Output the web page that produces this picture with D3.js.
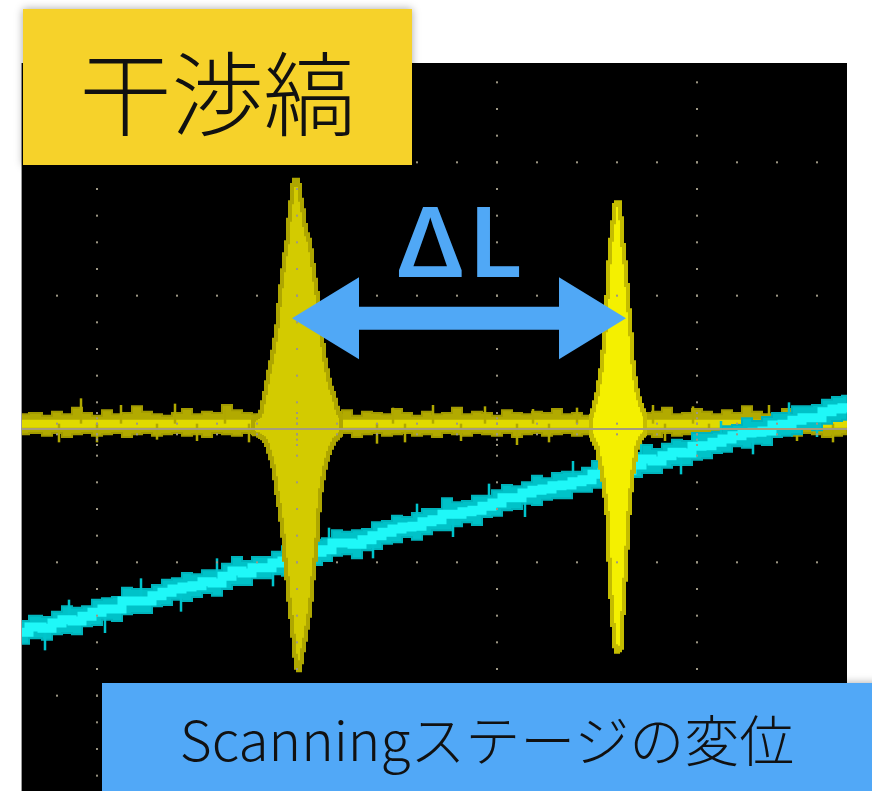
<!DOCTYPE html>
<html><head><meta charset="utf-8">
<script src="https://cdn.jsdelivr.net/npm/d3@7/dist/d3.min.js"></script>
<style>html,body{margin:0;padding:0;background:#fff;}svg{display:block}</style>
</head><body><div id="chart"></div>
<script>
// ---- sample times (scope units: 100 = 1 horizontal division) ----
const sampleT = [-238,-230,-225,-220,-215,-210,-205,-200,-195,-190,-185,-180,-175,-170,-165,-160,-155,-150,-145,-140,-135,-130,-125,-120,-115,-110,-105,-100,-95,-90,-85,-80,-75,-70,-65,-60,-55,-50,-45,-40,-35,-30,-25,-20,-15,-10,-5,0,5,10,15,20,25,30,35,40,45,50,55,60,65,70,75,80,85,90,95,100,105,110,115,120,125,130,135,140,145,150,155,160,165,170,175];

// ---- CH1 (yellow) baseline noise band (100 = 1 vertical division) ----
const yellowHi = [11,12,10,13,11,16,12,10,14,11,12,17,13,11,10,12,15,11,13,12,18,14,12,11,13,10,12,16,11,12,12,11,14,10,13,12,11,15,12,10,13,11,12,16,11,13,12,10,14,12,11,13,12,15,11,12,10,13,17,12,11,14,12,13,16,11,12,15,13,11,14,12,17,13,11,12,15,12,14,11,13,12,14];
const yellowLo = [-4,-3,-5,-3,-6,-4,-3,-5,-4,-3,-6,-4,-3,-5,-4,-3,-5,-4,-6,-3,-4,-5,-3,-4,-5,-3,-4,-6,-3,-4,-4,-5,-3,-6,-4,-3,-5,-4,-3,-5,-4,-6,-3,-4,-5,-3,-4,-5,-3,-6,-4,-3,-5,-4,-3,-5,-4,-6,-3,-4,-5,-3,-4,-6,-3,-5,-4,-3,-5,-6,-4,-3,-5,-4,-6,-3,-4,-5,-3,-4,-6,-5,-4];
const yellowLevel = 4;
const yellowSpikeT = [-219,-208,-200,-188,-170,-161,-150,-136,-124,-60,-52,-46,-32,-18,-6,10,18,26,40,78,84,98,106,121,136,150,158,168];
const yellowSpikeV = [-10,23,-10,18,-8,19,-9,17,-10,-11,16,-10,18,-9,17,-12,15,-10,16,18,-9,17,-12,-10,18,-9,16,-10];

// ---- CH1 interference bursts (envelopes) ----
const peak1T  = [-122,-121,-120,-119,-118,-117,-116,-115,-114,-113,-112,-111,-110,-109,-108,-107,-106,-105,-104,-103,-102,-101,-100,-99,-98,-97,-96,-95,-94,-93,-92,-91,-90,-89,-88,-87,-86,-85,-84,-83,-82,-81,-80,-79,-78];
const peak1Hi = [7,8,9,10,13,20,27,35,43,50,58,67,77,93,107,119,131,140,157,170,183,187,187,183,172,164,153,146,142,134,123,112,102,86,74,63,52,44,37,31,27,22,16,12,10];
const peak1Lo = [-3,-4,-4,-5,-6,-7,-9,-12,-17,-22,-28,-37,-48,-57,-68,-80,-98,-112,-128,-141,-155,-170,-179,-181,-175,-166,-158,-149,-140,-128,-112,-98,-83,-61,-46,-37,-29,-23,-18,-14,-11,-8,-7,-5,-4];
const peak2T  = [47,48,49,50,51,52,53,54,55,56,57,58,59,60,61,62,63,64,65,66,67,68,69,70,71,72,73,74];
const peak2Hi = [10,14,20,26,35,44,58,74,99,125,142,155,168,170,170,158,138,125,108,89,71,50,38,29,23,18,14,11];
const peak2Lo = [-5,-8,-11,-14,-22,-29,-38,-50,-63,-98,-126,-147,-163,-167,-166,-164,-138,-113,-89,-63,-46,-32,-23,-14,-10,-7,-5,-4];

// ---- CH2 (cyan) stage ramp band ----
const cyanHi = [-144,-140,-141,-137,-133,-134,-133,-128,-127,-126,-119,-120,-120,-117,-113,-112,-108,-109,-106,-106,-101,-96,-99,-96,-96,-92,-88,-89,-84,-83,-82,-76,-77,-76,-75,-70,-69,-65,-66,-63,-60,-60,-52,-55,-54,-50,-50,-46,-42,-43,-40,-35,-37,-33,-32,-32,-29,-24,-24,-21,-21,-18,-12,-15,-11,-8,-9,-3,-3,-2,2,3,8,6,9,12,12,17,17,18,22,24,25];
const cyanLo = [-161,-157,-158,-154,-153,-154,-148,-147,-143,-144,-139,-138,-138,-133,-132,-128,-129,-126,-123,-125,-120,-117,-117,-112,-112,-109,-110,-106,-102,-102,-99,-95,-94,-97,-91,-90,-86,-85,-81,-83,-79,-76,-76,-73,-70,-72,-66,-65,-61,-60,-56,-57,-53,-52,-52,-47,-47,-44,-41,-38,-41,-36,-33,-33,-29,-27,-27,-23,-22,-18,-17,-13,-14,-11,-12,-6,-5,-4,0,-1,4,6,7];
const cyanSpikeT    = [-226,-214,-196,-178,-158,-140,-112,-84,-62,-40,-22,-4,14,38,56,72,92,112,128,146,160];
const cyanSpikeBase = [-148,-143,-136,-128,-120,-113,-101,-90,-81,-72,-65,-57,-50,-40,-33,-26,-18,-10,-3,4,10];
const cyanSpikeV    = [-166,-128,-153,-112,-137,-97,-118,-74,-97,-56,-81,-41,-66,-24,-49,-10,-34,6,-19,20,-6];

// ---- graticule ----
const gridCols = [-200,-100,0,100];
const gridRows = [200,100,0,-100,-200];

// ---- annotations ----
const titleText = "干渉縞";
const axisText = "Scanningステージの変位";
const deltaText = "ΔL";
const arrowFrom = -102.5, arrowTo = 64.5, arrowLevel = 83;
const deltaAt = -17, deltaLevel = 114;

// ================= drawing =================
const W = 872, H = 791;
const scr = {l:22, r:847, t:63, b:791};
const x = d3.scaleLinear().domain([-237.5,175]).range([scr.l, scr.r]);
const y = d3.scaleLinear().domain([274.5,-271.5]).range([scr.t, scr.b]);

const svg = d3.select("#chart").append("svg").attr("width",W).attr("height",H);
const defs = svg.append("defs");
const f = defs.append("filter").attr("id","shadow").attr("x","-10%").attr("y","-20%").attr("width","120%").attr("height","140%");
f.append("feDropShadow").attr("dx",0).attr("dy",0).attr("stdDeviation",4).attr("flood-color","#000").attr("flood-opacity",0.35);
defs.append("clipPath").attr("id","scr").append("rect").attr("x",scr.l).attr("y",scr.t).attr("width",scr.r-scr.l).attr("height",scr.b-scr.t);

svg.append("rect").attr("width",W).attr("height",H).attr("fill","#fff");
svg.append("rect").attr("x",scr.l).attr("y",scr.t).attr("width",scr.r-scr.l).attr("height",scr.b-scr.t).attr("fill","#000");
svg.append("line").attr("x1",scr.l-0.5).attr("x2",scr.l-0.5).attr("y1",scr.t).attr("y2",scr.b).attr("stroke","#9a9a9a").attr("stroke-width",1);

const g = svg.append("g").attr("clip-path","url(#scr)");

// yellow baseline band
const base = sampleT.map((t,i)=>({t, hi:yellowHi[i], lo:yellowLo[i]}));
const band = d3.area().x(d=>x(d.t)).y0(d=>y(d.lo)).y1(d=>y(d.hi)).curve(d3.curveStep);
g.append("path").datum(base).attr("d",band).attr("fill","#b2aa00").attr("stroke","#a39b00").attr("stroke-width",2);
g.append("line").attr("x1",x(-237.5)).attr("x2",x(175)).attr("y1",y(yellowLevel)).attr("y2",y(yellowLevel))
  .attr("stroke","#e0da00").attr("stroke-width",8);
g.selectAll("line.ys").data(yellowSpikeT).join("line").attr("class","ys")
  .attr("x1",d=>x(d)).attr("x2",d=>x(d)).attr("y1",y(yellowLevel)).attr("y2",(d,i)=>y(yellowSpikeV[i]))
  .attr("stroke","#b0a800").attr("stroke-width",2.5);

// cyan ramp
const cy = sampleT.map((t,i)=>({t, hi:cyanHi[i], lo:cyanLo[i]}));
g.append("path").datum(cy).attr("d",band).attr("fill","#00c2c8").attr("stroke","#00b4bc").attr("stroke-width",2);
g.selectAll("line.cs").data(cyanSpikeT).join("line").attr("class","cs")
  .attr("x1",d=>x(d)).attr("x2",d=>x(d)).attr("y1",(d,i)=>y(cyanSpikeBase[i])).attr("y2",(d,i)=>y(cyanSpikeV[i]))
  .attr("stroke","#00c4cc").attr("stroke-width",2.5);
const mid = d3.line().x(d=>x(d.t)).y(d=>y((d.hi+d.lo)/2)).curve(d3.curveStep);
g.append("path").datum(cy).attr("d",mid).attr("fill","none").attr("stroke","#1ff8f8").attr("stroke-width",9);

// interference bursts
const p1 = peak1T.map((t,i)=>({t, hi:peak1Hi[i], lo:peak1Lo[i]}));
const p2 = peak2T.map((t,i)=>({t, hi:peak2Hi[i], lo:peak2Lo[i]}));
g.append("path").datum(p1).attr("d",band).attr("fill","#d3cb00").attr("stroke","#aea600").attr("stroke-width",4);
g.append("path").datum(p2).attr("d",band).attr("fill","#f4f000").attr("stroke","#c4bc00").attr("stroke-width",4);

// graticule dots
const dotCol = "#9d9784";
const dots = [];
gridCols.forEach(c=>{ for(let v=-260; v<=260; v+=20) dots.push([c,v]); [-12,-8,-4,4,8,12].forEach(v=>dots.push([c,v])); });
gridRows.forEach(r=>{ for(let u=-220; u<=160; u+=20) dots.push([u,r]); });
for(let u=-220; u<=160; u+=20){ dots.push([u,4]); dots.push([u,-4]); }
g.selectAll("rect.dot").data(dots).join("rect").attr("class","dot")
  .attr("x",d=>x(d[0])-1).attr("y",d=>y(d[1])-1).attr("width",2).attr("height",2).attr("fill",dotCol);
g.append("line").attr("x1",x(-237.5)).attr("x2",x(175)).attr("y1",y(0)).attr("y2",y(0))
  .attr("stroke","#a59d7c").attr("stroke-width",2);

// ΔL arrow
const blue = "#50a8f6";
const ax1 = x(arrowFrom), ax2 = x(arrowTo), ay = y(arrowLevel);
const hl = 67, hh = 41, sh = 11.5;
svg.append("path").attr("fill",blue).attr("d",
 `M${ax1},${ay}L${ax1+hl},${ay-hh}L${ax1+hl},${ay-sh}L${ax2-hl},${ay-sh}L${ax2-hl},${ay-hh}L${ax2},${ay}L${ax2-hl},${ay+hh}L${ax2-hl},${ay+sh}L${ax1+hl},${ay+sh}L${ax1+hl},${ay+hh}Z`);
svg.append("text").attr("x",x(deltaAt)).attr("y",y(deltaLevel)).attr("text-anchor","middle")
  .attr("font-family","'Noto Sans', sans-serif").attr("font-weight",600).attr("font-size",98)
  .attr("letter-spacing",6).attr("fill",blue).text(deltaText);

// title box
svg.append("rect").attr("x",23).attr("y",9).attr("width",389).attr("height",156).attr("fill","#f6d22c").attr("filter","url(#shadow)");
svg.append("text").attr("x",217.5).attr("y",88).attr("text-anchor","middle").attr("dominant-baseline","central")
  .attr("font-family","'Noto Sans CJK JP', sans-serif").attr("font-weight",300).attr("font-size",92).attr("fill","#111").text(titleText);

// axis label box
svg.append("rect").attr("x",102).attr("y",683).attr("width",780).attr("height",120).attr("fill","#51a8f7").attr("filter","url(#shadow)");
svg.append("text").attr("x",487).attr("y",737).attr("text-anchor","middle").attr("dominant-baseline","central")
  .attr("font-family","'Noto Sans CJK JP', sans-serif").attr("font-weight",300).attr("font-size",55).attr("fill","#111").text(axisText);
</script></body></html>
